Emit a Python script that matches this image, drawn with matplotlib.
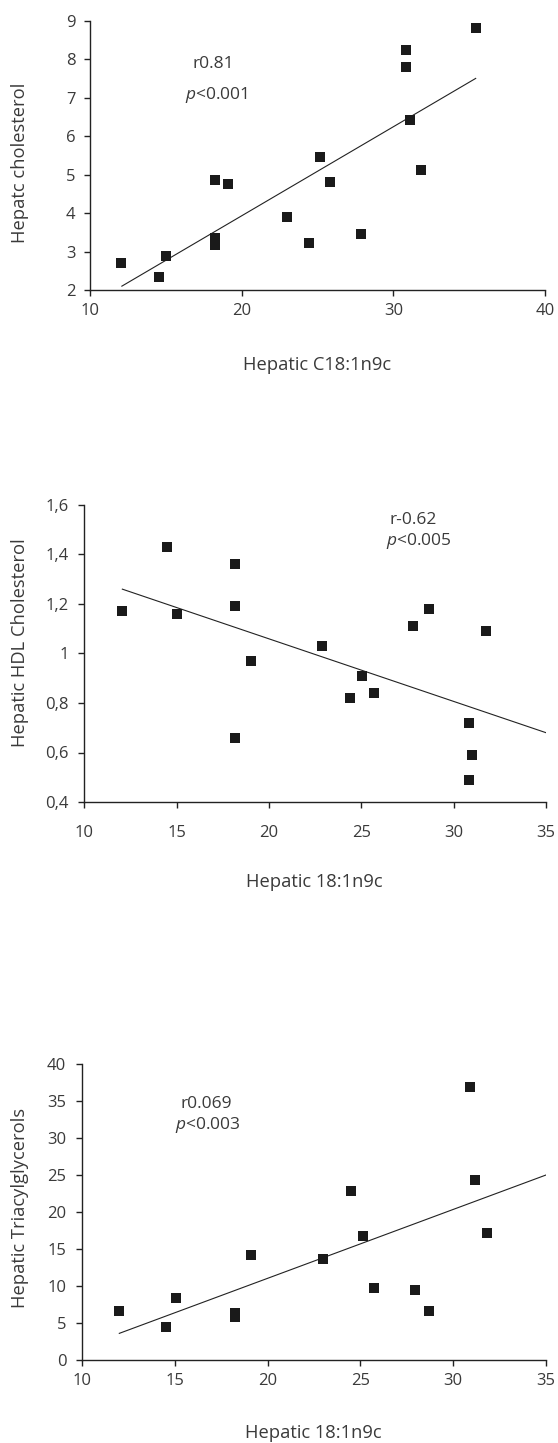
import matplotlib
matplotlib.use("Agg")
import matplotlib.pyplot as plt

plt.rcParams['font.family'] = ['Open Sans', 'DejaVu Sans']
plt.rcParams['mathtext.fontset'] = 'custom'
plt.rcParams['mathtext.rm'] = 'Open Sans'
plt.rcParams['mathtext.it'] = 'Open Sans:italic'

# ---------------- data ----------------
# Panel 1: hepatic cholesterol vs hepatic C18:1n9c
p1_x = [12.06, 14.55, 14.99, 18.27, 19.09, 18.27, 18.27, 22.98, 24.44, 25.16,
        25.80, 27.90, 30.83, 30.83, 31.09, 31.80, 35.43]
p1_y = [2.70, 2.35, 2.88, 4.85, 4.75, 3.36, 3.17, 3.89, 3.21, 5.45,
        4.81, 3.46, 8.24, 7.80, 6.43, 5.13, 8.80]
p1_fit_x = [12.1, 35.43]
p1_fit_y = [2.10, 7.50]
p1_xticks = [10, 20, 30, 40]
p1_yticks = [2, 3, 4, 5, 6, 7, 8, 9]

# Panel 2: hepatic HDL cholesterol vs hepatic 18:1n9c
p2_x = [12.02, 14.47, 15.01, 18.17, 18.17, 19.02, 18.17, 22.86, 24.40, 25.05,
        25.67, 27.81, 28.66, 31.76, 30.82, 30.99, 30.82]
p2_y = [1.17, 1.43, 1.16, 1.36, 1.19, 0.97, 0.66, 1.03, 0.82, 0.91,
        0.84, 1.11, 1.18, 1.09, 0.72, 0.59, 0.49]
p2_fit_x = [12.06, 35.0]
p2_fit_y = [1.26, 0.68]
p2_xticks = [10, 15, 20, 25, 30, 35]
p2_yticks = [0.4, 0.6, 0.8, 1.0, 1.2, 1.4, 1.6]
p2_yticklabels = ['0,4', '0,6', '0,8', '1', '1,2', '1,4', '1,6']

# Panel 3: hepatic triacylglycerols vs hepatic 18:1n9c
p3_x = [12.01, 14.51, 15.04, 18.26, 18.26, 19.09, 22.96, 24.49, 25.15, 25.74,
        27.96, 28.67, 30.90, 31.18, 31.82]
p3_y = [6.67, 4.46, 8.42, 6.31, 5.86, 14.19, 13.60, 22.84, 16.76, 9.73,
        9.46, 6.67, 36.85, 24.32, 17.12]
p3_fit_x = [12.01, 35.0]
p3_fit_y = [3.6, 25.0]
p3_xticks = [10, 15, 20, 25, 30, 35]
p3_yticks = [0, 5, 10, 15, 20, 25, 30, 35, 40]

# ---------------- figure ----------------
W, H = 558, 1443
fig = plt.figure(figsize=(W / 100, H / 100), dpi=100)

TXT = '#3a3a3a'
AX = '#222222'
MK = '#1a1a1a'
FS_TICK = 12
FS_ANN = 12.5
FS_LAB = 13.2
MS = 58


def px_axes(left, right, top, bottom):
    return fig.add_axes([left / W, 1 - bottom / H, (right - left) / W, (bottom - top) / H])


def style(ax, xpad, ypad):
    for s in ['top', 'right']:
        ax.spines[s].set_visible(False)
    for s in ['left', 'bottom']:
        ax.spines[s].set_color(AX)
        ax.spines[s].set_linewidth(1.0)
    ax.tick_params(axis='both', direction='out', length=4.3, width=1.0,
                   color=AX, labelcolor=TXT, labelsize=FS_TICK)
    ax.tick_params(axis='x', pad=xpad)
    ax.tick_params(axis='y', pad=ypad)


# Panel 1
ax1 = px_axes(90, 545, 20.7, 290)
ax1.scatter(p1_x, p1_y, marker='s', s=MS, color=MK, linewidths=0, zorder=3)
ax1.plot(p1_fit_x, p1_fit_y, color=AX, lw=0.8)
ax1.set_xlim(10, 40)
ax1.set_ylim(2, 9)
ax1.set_xticks(p1_xticks)
ax1.set_yticks(p1_yticks)
style(ax1, 5, 6)
ax1.text(18.16, 7.87, 'r0.81', ha='center', va='center', fontsize=FS_ANN, color=TXT)
ax1.text(18.34, 7.08, r'$\it{p}$<0.001', ha='center', va='center', fontsize=FS_ANN, color=TXT)
fig.text(317 / W, 1 - 365 / H, 'Hepatic C18:1n9c', ha='center', va='center',
         fontsize=FS_LAB, color=TXT)
fig.text(19.6 / W, 1 - 163 / H, 'Hepatc cholesterol', ha='center', va='center',
         rotation=90, fontsize=FS_LAB, color=TXT)

# Panel 2
ax2 = px_axes(84.3, 546, 505, 802)
ax2.scatter(p2_x, p2_y, marker='s', s=MS, color=MK, linewidths=0, zorder=3)
ax2.plot(p2_fit_x, p2_fit_y, color=AX, lw=0.8)
ax2.set_xlim(10, 35)
ax2.set_ylim(0.4, 1.6)
ax2.set_xticks(p2_xticks)
ax2.set_yticks(p2_yticks)
ax2.set_yticklabels(p2_yticklabels)
style(ax2, 12, 7)
ax2.text(27.83, 1.54, 'r-0.62', ha='center', va='center', fontsize=FS_ANN, color=TXT)
ax2.text(28.1, 1.455, r'$\it{p}$<0.005', ha='center', va='center', fontsize=FS_ANN, color=TXT)
fig.text(314 / W, 1 - 882 / H, 'Hepatic 18:1n9c', ha='center', va='center',
         fontsize=FS_LAB, color=TXT)
fig.text(19.6 / W, 1 - 643 / H, 'Hepatic HDL Cholesterol', ha='center', va='center',
         rotation=90, fontsize=FS_LAB, color=TXT)

# Panel 3
ax3 = px_axes(82, 546, 1064, 1360)
ax3.scatter(p3_x, p3_y, marker='s', s=MS, color=MK, linewidths=0, zorder=3)
ax3.plot(p3_fit_x, p3_fit_y, color=AX, lw=0.8)
ax3.set_xlim(10, 35)
ax3.set_ylim(0, 40)
ax3.set_xticks(p3_xticks)
ax3.set_yticks(p3_yticks)
style(ax3, 5, 7)
ax3.text(16.69, 34.6, 'r0.069', ha='center', va='center', fontsize=FS_ANN, color=TXT)
ax3.text(16.79, 31.76, r'$\it{p}$<0.003', ha='center', va='center', fontsize=FS_ANN, color=TXT)
fig.text(313 / W, 1 - 1433 / H, 'Hepatic 18:1n9c', ha='center', va='center',
         fontsize=FS_LAB, color=TXT)
fig.text(19.6 / W, 1 - 1208 / H, 'Hepatic Triacylglycerols', ha='center', va='center',
         rotation=90, fontsize=FS_LAB, color=TXT)

fig.savefig('out.png', dpi=100, facecolor='white')
